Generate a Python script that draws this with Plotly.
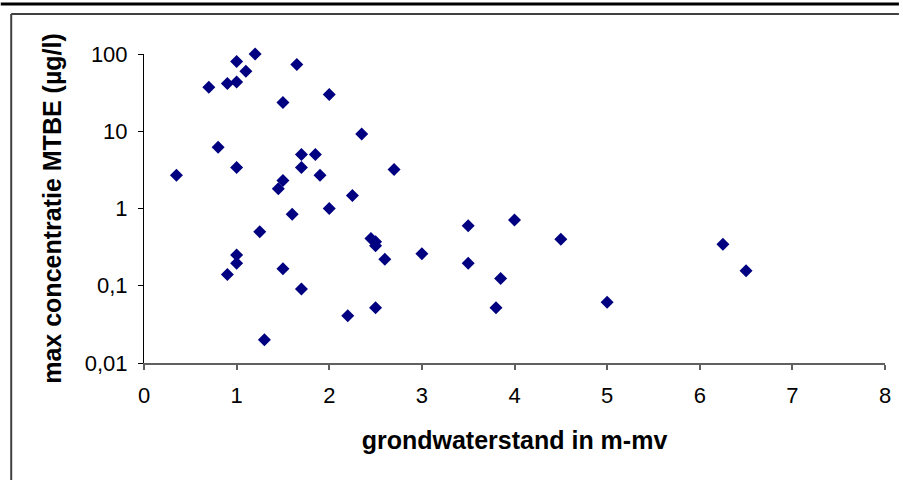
import plotly.graph_objects as go

# Data
grondwaterstand = [0.35, 0.7, 0.8, 0.9, 0.9, 1.0, 1.0, 1.0, 1.0, 1.0, 1.1, 1.2, 1.25, 1.3,
                   1.45, 1.5, 1.5, 1.5, 1.6, 1.65, 1.7, 1.7, 1.7, 1.85, 1.9, 2.0, 2.0, 2.2,
                   2.25, 2.35, 2.45, 2.5, 2.5, 2.5, 2.6, 2.7, 3.0, 3.5, 3.5, 3.8, 3.85, 4.0,
                   4.5, 5.0, 6.25, 6.5]
mtbe = [2.7, 37, 6.2, 41.5, 0.14, 80, 43.5, 3.4, 0.25, 0.196, 60, 100, 0.5, 0.02,
        1.8, 2.3, 23.6, 0.166, 0.84, 73, 5.0, 3.4, 0.091, 5.0, 2.7, 30, 1.0, 0.041,
        1.47, 9.2, 0.41, 0.37, 0.33, 0.052, 0.22, 3.2, 0.26, 0.6, 0.196, 0.052, 0.124, 0.71,
        0.40, 0.061, 0.344, 0.156]

x_ticks = [0, 1, 2, 3, 4, 5, 6, 7, 8]
y_tickvals = [0.01, 0.1, 1, 10, 100]
y_ticktext = ["0,01", "0,1", "1", "10", "100"]

W, H = 903, 480
L, R, T, B = 144, 889, 54, 363  # plot area in pixels

def px(xp):
    return (xp - L) / (R - L)

def py(yp):
    return (B - yp) / (B - T)

FONT = "Liberation Sans, Arial, sans-serif"

fig = go.Figure()
fig.add_trace(go.Scatter(
    x=grondwaterstand, y=mtbe, mode="markers",
    marker=dict(symbol="diamond", size=10, color="#000080"),
    cliponaxis=False, showlegend=False,
))

fig.update_layout(
    width=W, height=H,
    margin=dict(l=L, r=W - R, t=T, b=H - B, pad=0),
    paper_bgcolor="white", plot_bgcolor="white",
    font=dict(family=FONT, size=22, color="black"),
    xaxis=dict(
        range=[0, 8], tickvals=x_ticks, showgrid=False, zeroline=False,
        showline=True, linecolor="#606060", linewidth=2,
        ticks="outside", ticklen=5, tickcolor="#606060", tickwidth=2,
        ticklabelstandoff=7,
        title=dict(text="<b>grondwaterstand in m-mv</b>", font=dict(size=25), standoff=24),
    ),
    yaxis=dict(
        type="log", range=[-2, 2], tickvals=y_tickvals, ticktext=y_ticktext,
        showgrid=False, zeroline=False,
        showline=True, linecolor="black", linewidth=1,
        ticks="outside", ticklen=5, tickcolor="black", tickwidth=1,
        ticklabelstandoff=6,
        title=dict(text="<b>max concentratie MTBE (µg/l)</b>", font=dict(size=25), standoff=16),
    ),
    shapes=[
        dict(type="line", xref="paper", yref="paper", x0=px(0), x1=px(W), y0=py(4), y1=py(4),
             line=dict(color="black", width=3)),
        dict(type="line", xref="paper", yref="paper", x0=px(10.5), x1=px(W), y0=py(14), y1=py(14),
             line=dict(color="#404040", width=2)),
        dict(type="line", xref="paper", yref="paper", x0=px(10.5), x1=px(10.5), y0=py(14), y1=py(H),
             line=dict(color="#404040", width=2)),
    ],
)

fig.write_html(
    "out.html",
    config={"displayModeBar": False},
    post_script="document.body.style.margin='0';document.body.style.overflow='hidden';",
)
